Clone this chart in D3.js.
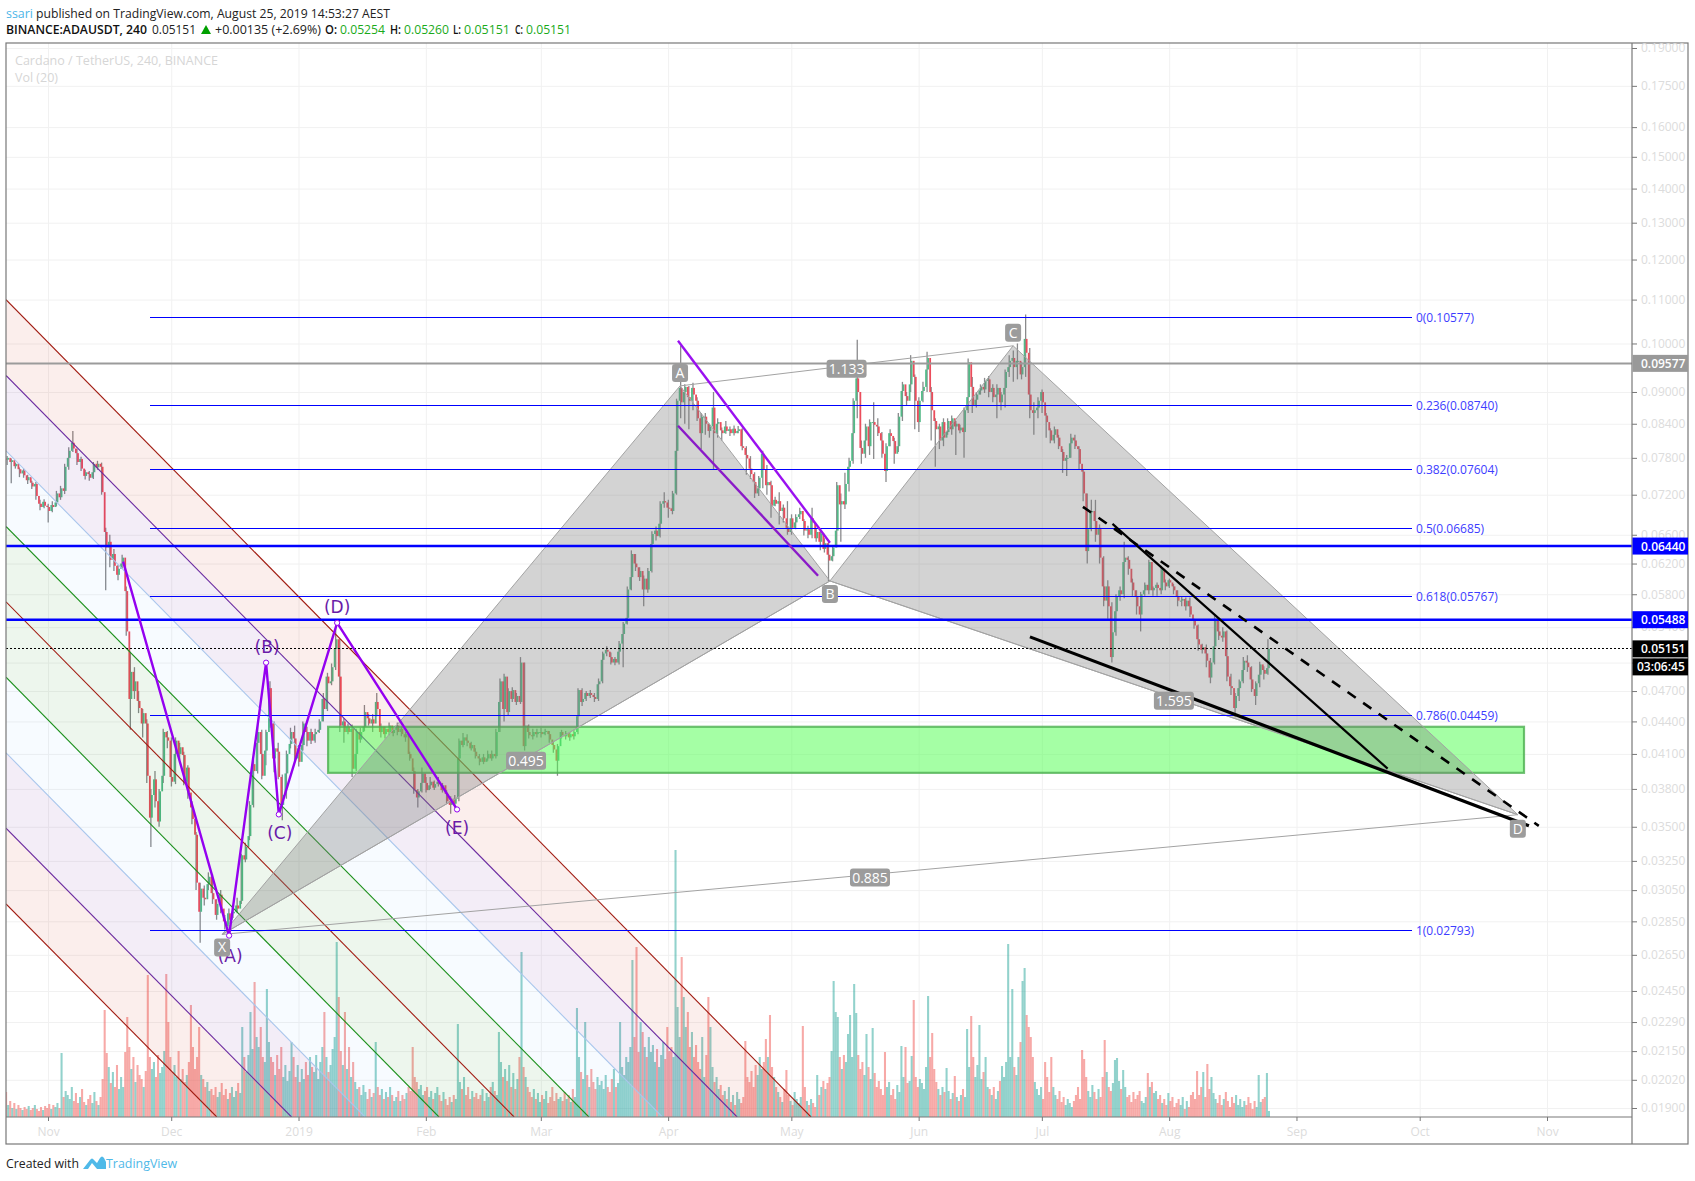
<!DOCTYPE html>
<html><head><meta charset="utf-8">
<script src="https://cdn.jsdelivr.net/npm/d3@7"></script>
<style>html,body{margin:0;padding:0;background:#fff;overflow:hidden}svg{display:block}text{font-family:"Open Sans",sans-serif}</style>
</head><body><svg id="c" width="1695" height="1181"></svg>
<script>
// Prices are in units of 0.00001. One close per 12 hours, high and low per day.
const PRICE_UNIT = 0.00001;
const closes = [
7770,7800,7730,7760,7660,7700,7610,7540,7590,7510,
7430,7480,7390,7330,7370,7180,7060,7010,7090,7030,
7010,6950,7040,7010,7080,7220,7160,7300,7260,7650,
7800,7920,8060,7960,7880,7730,7780,7620,7500,7560,
7530,7470,7560,7700,7640,7700,7650,7240,6640,6420,
6500,6250,6330,6170,6050,6130,6200,6280,5840,5350,
4620,4900,4700,4800,4600,4530,4380,4480,4380,3910,
3570,3750,3880,3700,3540,3780,3910,4300,4250,4220,
3900,3860,4100,4220,4100,4160,4090,3860,3980,3770,
3650,3560,3440,3100,2910,3060,3000,2990,3090,3140,
3030,2990,2890,2960,3020,2930,2850,2820,2900,2860,
2900,2910,2950,2930,2980,3290,3260,3350,3430,3670,
4010,3950,4200,4300,4100,3910,4130,4300,4730,4380,
4060,4150,4120,3900,3670,3750,3930,4100,4190,4300,
4240,4060,4150,4030,4180,4380,4300,4220,4300,4220,
4280,4300,4320,4400,4620,4520,4850,4780,4800,4950,
5150,5260,4850,4360,4400,4300,4350,4300,4330,3970,
4100,4300,4230,4300,4350,4490,4430,4380,4420,4380,
4590,4520,4300,4350,4280,4330,4300,4360,4290,4320,
4360,4300,4330,4280,4250,4280,4100,4060,3950,3790,
3730,3780,3850,3930,3850,3790,3830,3860,3810,3840,
3860,3840,3790,3830,3760,3700,3670,3720,3680,3720,
4060,4220,4180,4250,4220,4200,4150,4180,4120,4080,
4060,4030,4070,4030,4060,4100,4060,4100,4080,4300,
4590,4800,4520,4850,4490,4700,4620,4710,4590,4650,
4590,5000,4170,4360,4300,4270,4260,4300,4280,4300,
4300,4280,4300,4310,4280,4230,4180,4140,4040,4170,
4300,4270,4260,4290,4250,4280,4260,4300,4450,4710,
4590,4620,4680,4650,4680,4660,4640,4620,4770,4800,
5030,5100,5140,5120,5060,5000,5040,5000,5120,5210,
5320,5440,5510,5860,6020,6330,6200,6150,6020,6100,
5860,6000,5860,6100,6470,6610,6660,6580,6760,7060,
7100,7080,7000,6990,6950,7220,7920,8830,9080,8800,
9000,9100,8900,8830,9080,8950,8830,8500,8230,8530,
8530,8400,8270,8350,8700,8230,8400,8430,8280,8230,
8350,8270,8300,8230,8310,8230,8270,8300,8000,7970,
7850,7790,7620,7530,7400,7220,7300,7470,7870,7600,
7350,7400,7350,7030,7120,7060,7100,6950,7000,6840,
6700,6640,6840,6700,6780,6860,6900,6950,6800,6660,
6680,6600,6840,6780,6550,6640,6500,6620,6400,6480,
6320,6240,6300,6420,6660,7350,7050,7100,7050,7370,
7650,7750,8230,8830,9270,9000,7970,7870,8100,8350,
8000,8430,8430,8380,8350,8230,8100,7870,7580,8000,
8230,8180,8090,7870,8000,8530,9020,9150,8920,8830,
9150,9630,9300,8830,8430,8830,9020,9100,9450,9690,
9000,8650,8450,8300,8350,8100,8430,8150,8250,8450,
8300,8500,8350,8400,8280,8330,8250,8650,8900,9600,
9100,8750,8850,8950,9030,9100,9050,9220,9250,9000,
9080,8900,8950,9080,8800,8950,9080,9400,9500,9630,
9690,9500,9630,9630,9350,9500,10100,9800,8950,8650,
8600,8650,8700,8830,9000,8800,8550,8430,8280,8100,
8200,8300,8150,8000,7900,7750,7800,7800,8050,8150,
8100,8000,7950,7700,7570,7220,6370,6680,6930,6950,
6800,6600,6700,6280,5900,5720,5900,5650,5060,5340,
5590,5770,5850,5800,6220,6280,6250,6130,5950,5850,
5770,5650,5550,5800,5850,5920,5850,6220,5850,5880,
5920,5880,5850,6130,5950,5900,5980,5950,5900,5850,
5770,5720,5720,5740,5650,5720,5650,5550,5480,5420,
5260,5200,5140,5170,5100,5020,4840,5000,5180,5500,
5350,5300,5280,5350,5070,4850,4750,4730,4530,4650,
4730,4800,4920,5020,5000,4950,4820,4720,4650,4780,
4870,4980,4920,4880,4940,5151];
const dayHighs = [
7830,7790,7720,7640,7620, 7520,7420,7400,7120,7130, 7060,7100,7260,7340,7700, 7980,8270,7950,7820,7600,
7580,7730,7750,7720,6700, 6600,6400,6180,6320,5900, 5120,4950,4700,4520,4420, 3800,3950,3800,4330,4310,
4250,4250,4200,4120,4000, 3700,3460,3100,3080,3170, 3160,2990,3050,2890,2930, 2950,3000,3300,3380,3700,
4050,4380,4320,4320,4800, 4400,4200,3920,4130,4340, 4360,4180,4400,4350,4330, 4330,4420,4680,4890,4990,
5400,5260,4430,4380,4370, 4330,4340,4560,4470,4470, 4680,4380,4350,4390,4340, 4390,4350,4300,4120,3980,
3800,3980,3900,3900,3870, 3900,3850,3790,3740,3750, 4240,4290,4280,4210,4150, 4100,4100,4130,4130,4330,
4830,4880,4730,4740,4680, 5060,5000,4370,4330,4330, 4340,4330,4310,4210,4190, 4320,4310,4300,4320,4730,
4730,4700,4710,4680,4830, 5120,5180,5110,5060,5240, 5460,5900,6380,6330,6150, 6040,6140,6650,6720,7100,
7240,7120,7260,8870,9950, 9150,9120,9180,8900,8600, 8600,8400,9000,8500,8330, 8450,8350,8370,8360,8320,
8000,7830,7560,7500,7920, 7680,7420,7170,7240,7050, 7100,6900,6900,7000,6830, 6730,7000,6700,6680,6550,
6500,6440,7400,7220,7550, 7800,8880,10080,8100,8400, 8480,8800,8500,8250,8050, 8300,8150,8600,9200,9000,
9750,9350,8900,9200,9820, 9100,8500,8400,8500,8500, 8550,8450,8380,8700,9680, 9300,9000,9150,9280,9320,
9150,9150,9000,9450,9750, 9850,10000,9600,10650,9900, 8800,8900,9050,8600,8320, 8350,8200,7950,7850,8220,
8200,8000,7600,7220,7120, 7120,6750,6300,5980,5700, 5800,5900,6500,6300,6000, 5850,5830,5950,6250,5900,
5950,6170,5990,6000,5930, 5850,5770,5760,5760,5500, 5430,5210,5200,5050,5550, 5520,5400,5360,4880,4680,
4820,5060,5080,4960,4800, 5010,4960,5260];
const dayLows = [
7680,7380,7620,7480,7470, 7370,7290,7120,6960,6990, 6780,6930,7020,7120,7210, 7600,7900,7680,7580,7440,
7420,7450,7600,7200,5850, 6150,6100,5980,6130,5300, 4320,4620,4480,4250,3850, 3350,3650,3500,3850,4150,
3820,3840,4050,3830,3720, 3520,3050,2720,2950,3050, 2960,2860,2900,2800,2830, 2870,2900,2960,3240,3400,
3650,3930,3880,4000,4340, 3940,3880,3550,3720,4150, 4030,3990,4130,4170,4190, 4200,4290,4400,4500,4760,
4920,4300,4200,4280,3900, 3950,4200,4310,4360,4300, 4450,4250,4240,4270,4260, 4270,4260,4210,4040,3760,
3650,3770,3770,3800,3790, 3820,3770,3680,3600,3650, 3700,4160,4170,4130,4060, 4000,4010,4040,4040,4060,
4300,4400,4460,4590,4560, 4570,4130,4240,4230,4250, 4250,4270,4200,4110,3910, 4240,4230,4220,4230,4280,
4550,4600,4630,4590,4600, 4780,5070,4980,4970,4980, 4950,5430,5850,6100,5970, 5650,5820,6080,6520,6560,
7000,6850,6900,7200,8500, 8400,8300,8650,8450,7950, 8200,8150,7600,8150,8100, 8220,8180,8190,8230,7930,
7520,7450,7150,7180,7300, 7200,6850,7020,6750,6780, 6600,6600,6680,6830,6590, 6550,6550,6500,6380,6350,
5970,6230,6420,6500,6980, 7250,7700,8500,7700,7800, 7850,7780,8180,7800,7400, 8000,7700,7900,8450,8750,
9000,8300,8250,8800,9000, 8100,7650,7950,8000,8200, 8200,7850,8230,7800,8600, 8600,8700,8950,8980,8900,
8800,8500,8650,8700,9300, 9200,9250,9250,9300,8500, 8200,8500,8600,8150,8050, 8050,7950,7550,7500,7800,
7950,7600,7100,6200,6650, 6500,6200,5650,5500,5000, 5300,5720,5750,6050,5780, 5550,5350,5780,5800,5780,
5780,5800,5850,5880,5800, 5650,5650,5600,5520,5380, 5130,5100,4950,4780,4980, 5250,5230,4800,4660,4440,
4600,4780,4900,4690,4560, 4740,4820,4870];
const volumes = [
25,12,16,9,14,8,12,9,7,10, 8,11,7,9,12,8,6,10,7,11, 9,13,8,12,10,14,9,64,20,26, 22,18,30,16,24,14,20,28,15,12,
18,22,14,25,16,12,20,38,107,64, 50,34,45,30,52,28,40,30,65,100, 70,48,60,35,52,42,38,30,46,142, 60,48,55,40,62,44,50,66,143,95,
60,45,52,40,66,38,48,35,42,55, 112,70,48,60,90,42,38,30,35,26, 28,22,30,20,25,34,22,28,18,24, 30,20,26,34,24,90,60,45,62,105,
68,135,80,70,90,60,55,128,75,60, 55,42,62,48,70,40,52,36,46,75, 60,40,52,35,48,38,55,42,60,50, 45,62,38,55,70,105,60,45,52,68,
80,175,120,66,52,105,48,70,40,55, 35,28,30,22,32,25,18,28,20,24, 75,30,22,28,18,25,20,30,22,16, 20,26,16,22,18,24,30,26,70,40,
35,28,32,22,26,30,20,26,18,24, 30,22,16,25,18,12,20,15,22,18, 93,35,28,40,22,30,18,26,20,24, 18,22,28,16,24,20,30,35,26,22,
85,55,40,48,36,52,30,44,28,38, 60,165,50,40,30,25,20,28,18,24, 15,22,18,26,14,20,30,16,24,18, 20,16,25,18,22,15,28,20,109,60,
45,38,95,42,30,48,35,28,40,32, 36,28,42,30,25,38,48,30,34,95, 50,42,60,55,70,157,80,170,65,95, 85,70,60,80,65,72,55,68,50,62,
75,58,90,66,70,60,267,110,80,160, 120,90,105,70,85,60,72,55,48,80, 40,62,120,90,50,35,40,28,32,22, 26,18,30,15,22,12,25,18,14,20,
76,40,35,46,30,52,42,60,48,55, 78,60,102,50,40,30,25,20,15,28, 47,22,16,12,25,18,14,20,91,30, 16,12,18,14,10,42,22,30,36,28,
34,40,66,136,105,100,60,48,62,55, 83,102,60,133,104,62,48,55,42,83, 50,38,89,44,30,36,28,22,65,30, 35,22,28,18,32,25,71,40,70,34,
36,61,117,40,30,38,34,28,50,121, 60,84,48,35,28,22,30,25,49,26, 18,24,41,20,16,22,28,20,88,50, 101,60,40,52,92,38,45,60,30,28,
22,30,18,26,36,51,40,55,173,60, 128,50,42,60,75,136,149,102,90,80, 60,35,28,22,30,18,55,40,25,60, 30,22,18,26,15,20,12,18,14,10,
16,22,30,18,67,58,40,26,20,32, 25,18,28,20,40,77,45,30,26,34, 57,59,36,28,47,30,20,22,15,25, 18,22,26,16,14,20,44,30,35,24,
26,18,22,14,18,12,24,16,20,10, 14,18,12,20,8,16,10,22,25,18, 46,22,30,45,20,53,28,40,24,18, 14,22,12,18,25,16,10,20,14,22,
12,18,10,16,12,20,14,8,16,10, 42,15,18,20,44,6];

const priceTicks = [0.19,0.175,0.16,0.15,0.14,0.13,0.12,0.11,0.10,0.09,0.084,0.078,0.072,0.066,0.062,0.058,0.054,0.05,0.047,0.044,0.041,0.038,0.035,0.0325,0.0305,0.0285,0.0265,0.0245,0.0229,0.0215,0.0202,0.019];
const monthTicks = ["2018-11-01","2018-12-01","2019-01-01","2019-02-01","2019-03-01","2019-04-01","2019-05-01","2019-06-01","2019-07-01","2019-08-01","2019-09-01","2019-10-01","2019-11-01"];
const monthLabels = ["Nov","Dec","2019","Feb","Mar","Apr","May","Jun","Jul","Aug","Sep","Oct","Nov"];
const fibLevels = ["0","0.236","0.382","0.5","0.618","0.786","1"];
const fibPrices = [0.10577,0.08740,0.07604,0.06685,0.05767,0.04459,0.02793];
const fibSpanDays = [24.8,332.1];
const hLinePrices = [0.0644,0.05488];
const lastPrice = 0.05151, grayLevel = 0.09577;
// Annotation anchors: days after 2018-11-01, and price
const xabcdNames = ["X","A","B","C","D"];
const xabcdDays = [42.4,153.9,190.4,235.0,357.9];
const xabcdPrices = [0.0277,0.0912,0.0597,0.0995,0.03593];
const ratioLabels = [["0.495",0,2],["1.133",1,3],["1.595",2,4],["0.885",0,4]];
const waveNames = ["","(A)","(B)","(C)","(D)","(E)"];
const waveDays = [18.3,44.1,53.1,56.2,70.4,99.6];
const wavePrices = [0.06225,0.02763,0.04999,0.03595,0.05451,0.03634];
const forkStartPrices = [0.1100,0.0933,0.0792,0.0672,0.05706,0.04843,0.0411,0.03489,0.0296];
const forkEndDays = [185.8,167.8,149.6,131.7,113.5,95.2,77.2,59.3,41.1];
const forkLineColors = ["#a01a10","#6a2aa0","#a9c6ec","#1a8f1a","#a01a10","#1a8f1a","#a9c6ec","#6a2aa0","#a01a10"];
const forkFills = ["rgba(200,40,10,.08)","rgba(106,27,154,.08)","rgba(33,150,243,.035)","rgba(0,128,0,.07)","rgba(0,128,0,.07)","rgba(33,150,243,.035)","rgba(106,27,154,.08)","rgba(200,40,10,.08)"];
const channelDays = [[153.4,190.4],[153.4,187.5]];
const channelPrices = [[0.1006,0.06487],[0.08364,0.06038]];
const blackDays = [[239.1,360.6],[259.2,326.2],[252,363]];
const blackPrices = [[0.05287,0.03507],[0.06758,0.03971],[0.07013,0.03507]];
const zoneDays = [68.2,359.4], zonePrices = [0.04349,0.03935];

const L=6,R=1632,OUT=1688,T=43,PB=1117,B=1144;
const svg=d3.select("#c");
const NOV1=Date.UTC(2018,10,1), DAY=864e5;
const dateOf=d=>new Date(NOV1+d*DAY);
const x=d3.scaleUtc().domain([new Date(NOV1),new Date(Date.UTC(2019,10,1))]).range([48,1547]);
const y=d3.scaleLog().domain([0.19,0.019]).range([48,1108]);
const vol=d3.scaleLinear().domain([0,270]).range([PB,PB-270]);
const pt=(d,p)=>[x(dateOf(d)),y(p)];
const monthDates=monthTicks.map(s=>new Date(s+"T00:00:00Z"));
const leftDay=x.invert(L).getTime(); const leftD=(leftDay-NOV1)/DAY;
const floorPrice=y.invert(PB);
svg.append("defs").append("clipPath").attr("id","pane").append("rect").attr("x",L).attr("y",T).attr("width",R-L).attr("height",PB-T);

// grid
const gg=svg.append("g").attr("class","grid");
gg.append("g").attr("transform",`translate(${L},0)`).call(d3.axisRight(y).tickValues(priceTicks).tickSize(R-L).tickFormat(""));
gg.append("g").attr("transform",`translate(0,${T})`).call(d3.axisBottom(x).tickValues(monthDates).tickSize(PB-T).tickFormat(""));
gg.selectAll(".domain").remove();
gg.selectAll("line").attr("stroke","#f1f1f1").attr("stroke-width",1);

const pane=svg.append("g").attr("clip-path","url(#pane)");

// candles + volume
const START=-10.2;
const cDate=i=>dateOf(START+i*0.5);
const candles=closes.map((c,i)=>({i,c:c*PRICE_UNIT,o:(i?closes[i-1]:c+20)*PRICE_UNIT,v:volumes[i]}));
pane.append("g").selectAll("rect").data(candles).join("rect")
 .attr("x",d=>x(cDate(d.i))-1.03).attr("width",2.06)
 .attr("y",d=>vol(d.v)).attr("height",d=>PB-vol(d.v))
 .attr("fill",d=>d.c>=d.o?"rgba(38,166,154,.5)":"rgba(239,83,80,.5)");
pane.append("g").selectAll("line").data(dayHighs.map((h,i)=>({i,h:h*PRICE_UNIT,l:dayLows[i]*PRICE_UNIT}))).join("line")
 .attr("x1",d=>x(dateOf(START+d.i+0.25))).attr("x2",d=>x(dateOf(START+d.i+0.25)))
 .attr("y1",d=>y(d.h)).attr("y2",d=>y(d.l)).attr("stroke","#8a8a8c").attr("stroke-width",1.3);
pane.append("g").selectAll("rect").data(candles).join("rect")
 .attr("x",d=>x(cDate(d.i))-0.9).attr("width",1.8)
 .attr("y",d=>Math.min(y(d.o),y(d.c))).attr("height",d=>Math.max(1,Math.abs(y(d.o)-y(d.c))))
 .attr("fill",d=>d.c>=d.o?"#53b987":"#eb4d5c");

// pitchfork
const gf=pane.append("g");
forkFills.forEach((f,i)=>{
 const a=pt(leftD,forkStartPrices[i]),b=pt(leftD,forkStartPrices[i+1]),c=pt(forkEndDays[i+1],floorPrice),e=pt(forkEndDays[i],floorPrice);
 gf.append("polygon").attr("points",[a,b,c,e].join(" ")).attr("fill",f);
});
forkLineColors.forEach((col,i)=>{
 const a=pt(leftD,forkStartPrices[i]),c=pt(forkEndDays[i],floorPrice);
 gf.append("line").attr("x1",a[0]).attr("y1",a[1]).attr("x2",c[0]).attr("y2",c[1]).attr("stroke",col).attr("stroke-width",1.1);
});

// zone
const z0=pt(zoneDays[0],zonePrices[0]),z1=pt(zoneDays[1],zonePrices[1]);
pane.append("rect").attr("x",z0[0]).attr("y",z0[1]).attr("width",z1[0]-z0[0]).attr("height",z1[1]-z0[1])
 .attr("fill","rgba(76,255,76,.5)").attr("stroke","rgba(76,175,80,.8)").attr("stroke-width",2.2);

// XABCD
const P=xabcdDays.map((d,i)=>pt(d,xabcdPrices[i]));
[[0,1,2],[2,3,4]].forEach(t=>pane.append("polygon").attr("points",t.map(i=>P[i]).join(" ")).attr("fill","rgba(120,120,120,.33)").attr("stroke","#a3a3a3").attr("stroke-width",1));
ratioLabels.forEach(r=>pane.append("line").attr("x1",P[r[1]][0]).attr("y1",P[r[1]][1]).attr("x2",P[r[2]][0]).attr("y2",P[r[2]][1]).attr("stroke","#a3a3a3").attr("stroke-width",1));

// fib
fibPrices.forEach((p,i)=>{
 const a=pt(fibSpanDays[0],p),b=pt(fibSpanDays[1],p);
 pane.append("line").attr("x1",a[0]).attr("x2",b[0]).attr("y1",a[1]).attr("y2",a[1]).attr("stroke","#0000ff").attr("stroke-width",1).attr("shape-rendering","crispEdges");
 pane.append("text").attr("x",b[0]+4).attr("y",a[1]+4.5).attr("font-size",12).attr("fill","#3d3dff").text(`${fibLevels[i]}(${p.toFixed(5)})`);
});
// horizontal lines
hLinePrices.forEach(p=>{
 pane.append("line").attr("x1",L).attr("x2",R).attr("y1",y(p)).attr("y2",y(p)).attr("stroke","#0000ff").attr("stroke-width",2.4);
});
pane.append("line").attr("x1",L).attr("x2",R).attr("y1",y(grayLevel)).attr("y2",y(grayLevel)).attr("stroke","#9b9b9b").attr("stroke-width",2);
pane.append("line").attr("x1",L).attr("x2",R).attr("y1",y(lastPrice)).attr("y2",y(lastPrice)).attr("stroke","#000").attr("stroke-width",1).attr("stroke-dasharray","2 2").attr("shape-rendering","crispEdges");

// purple wave
const W=waveDays.map((d,i)=>pt(d,wavePrices[i]));
pane.append("path").attr("d",d3.line()(W)).attr("fill","none").attr("stroke","#9400f0").attr("stroke-width",2.4);
pane.append("g").selectAll("circle").data(W.slice(1)).join("circle").attr("cx",d=>d[0]).attr("cy",d=>d[1]).attr("r",2.6).attr("fill","#fff").attr("stroke","#9400f0").attr("stroke-width",1);
const waveOff=[0,20,-16,19,-16,19];
W.forEach((w,i)=>{if(waveNames[i])pane.append("text").attr("x",w[0]+(i<=3?1:0)).attr("y",w[1]+waveOff[i]+6).attr("text-anchor","middle").attr("font-size",17).attr("fill","#6a1ba8").style("font-family","'DejaVu Sans'").text(waveNames[i]);});

// channel
channelDays.forEach((ds,i)=>{const a=pt(ds[0],channelPrices[i][0]),b=pt(ds[1],channelPrices[i][1]);
 pane.append("line").attr("x1",a[0]).attr("y1",a[1]).attr("x2",b[0]).attr("y2",b[1]).attr("stroke",i?"#8a1ac8":"#9a10f0").attr("stroke-width",2.4);});
// black lines
const blackW=[3.2,2.2,2.6],blackDash=[null,null,"10 9"];
blackDays.forEach((ds,i)=>{const a=pt(ds[0],blackPrices[i][0]),b=pt(ds[1],blackPrices[i][1]);
 pane.append("line").attr("x1",a[0]).attr("y1",a[1]).attr("x2",b[0]).attr("y2",b[1]).attr("stroke","#000").attr("stroke-width",blackW[i]).attr("stroke-dasharray",blackDash[i]);});

// pattern labels
function badge(cx,cy,t,w){
 const g=pane.append("g");
 g.append("rect").attr("x",cx-w/2).attr("y",cy-9).attr("width",w).attr("height",18).attr("rx",3).attr("fill","#9c9c9c");
 g.append("text").attr("x",cx).attr("y",cy+5).attr("text-anchor","middle").attr("font-size",14).attr("fill","#fff").text(t);
}
const nameOff=[13,-13,13,-13,14];
xabcdNames.forEach((n,i)=>badge(P[i][0],P[i][1]+nameOff[i],n,16));
ratioLabels.forEach(r=>badge((P[r[1]][0]+P[r[2]][0])/2,(P[r[1]][1]+P[r[2]][1])/2+3,r[0],40));

// frame
const fr=svg.append("g").attr("fill","none").attr("stroke","#787878").attr("stroke-width",1.2);
fr.append("rect").attr("x",L).attr("y",T).attr("width",OUT-L).attr("height",B-T);
fr.append("line").attr("x1",L).attr("x2",R).attr("y1",PB).attr("y2",PB);
fr.append("line").attr("x1",R).attr("x2",R).attr("y1",T).attr("y2",B);

// axes
const ya=svg.append("g").attr("transform",`translate(${R},0)`).call(d3.axisRight(y).tickValues(priceTicks).tickFormat(d3.format(".5f")).tickSize(5).tickPadding(4));
const xa=svg.append("g").attr("transform",`translate(0,${PB})`).call(d3.axisBottom(x).tickValues(monthDates).tickFormat((d,i)=>monthLabels[i]).tickSize(4).tickPadding(6));
[ya,xa].forEach(a=>{a.select(".domain").remove();a.selectAll("line").attr("stroke","#787878");a.selectAll("text").attr("fill","#dcdcdc").attr("font-size",12).style("font-family","'Open Sans'");});

// axis price tags
function tag(cy,txt,col,tx){
 svg.append("rect").attr("x",R+0.5).attr("y",cy-8.5).attr("width",OUT-R-0.5).attr("height",17).attr("fill",col);
 svg.append("text").attr("x",tx).attr("y",cy+4.5).attr("font-size",12).attr("font-weight",600).attr("fill","#fff").text(txt);
}
tag(y(grayLevel),grayLevel.toFixed(5),"#999",1641);
hLinePrices.forEach(p=>tag(y(p),p.toFixed(5),"#0000ff",1641));
tag(y(lastPrice),lastPrice.toFixed(5),"#000",1641);
tag(y(lastPrice)+18,"03:06:45","#000",1637);

// header
const hdr=(x0,yy,t,col,w,len)=>{const s=svg.append("text").attr("x",x0).attr("y",yy).attr("font-size",12.5).attr("fill",col).attr("font-weight",w||400).text(t);if(len)s.attr("textLength",len).attr("lengthAdjust","spacingAndGlyphs");};
hdr(6,18,"ssari","#4db6e8",400,27);
hdr(36,18,"published on TradingView.com, August 25, 2019 14:53:27 AEST","#222",400,354);
hdr(6,34,"BINANCE:ADAUSDT, 240","#111",600,141);
hdr(152,34,"0.05151","#222",400,44);
svg.append("path").attr("d","M201 34 L206 25 L211 34 Z").attr("fill","#00a000");
hdr(215,34,"+0.00135 (+2.69%)","#222",400,106);
hdr(325,34,"O:","#111",600,12);hdr(340,34,"0.05254","#1aaa1a",400,45);
hdr(390,34,"H:","#111",600,11);hdr(404,34,"0.05260","#1aaa1a",400,45);
hdr(453,34,"L:","#111",600,8);hdr(464,34,"0.05151","#1aaa1a",400,46);
hdr(515,34,"C:","#111",600,8);hdr(526,34,"0.05151","#1aaa1a",400,45);
// watermark
hdr(15,65,"Cardano / TetherUS, 240, BINANCE","#d6d6d6",400,203);
hdr(15,82,"Vol (20)","#d6d6d6",400,43);
// footer
hdr(6,1168,"Created with","#222",400,73);
svg.append("path").attr("d","M83 1169 L90 1160 Q92 1157 94 1160 L97 1163 L100 1158 Q102 1155 104 1158 L106 1162 L106 1169 Z").attr("fill","#4fb9e8");
svg.append("path").attr("d","M88 1169 L92 1163 L97 1169 Z").attr("fill","#fff");
hdr(106,1168,"TradingView","#4fb9e8",400,71);
</script></body></html>
